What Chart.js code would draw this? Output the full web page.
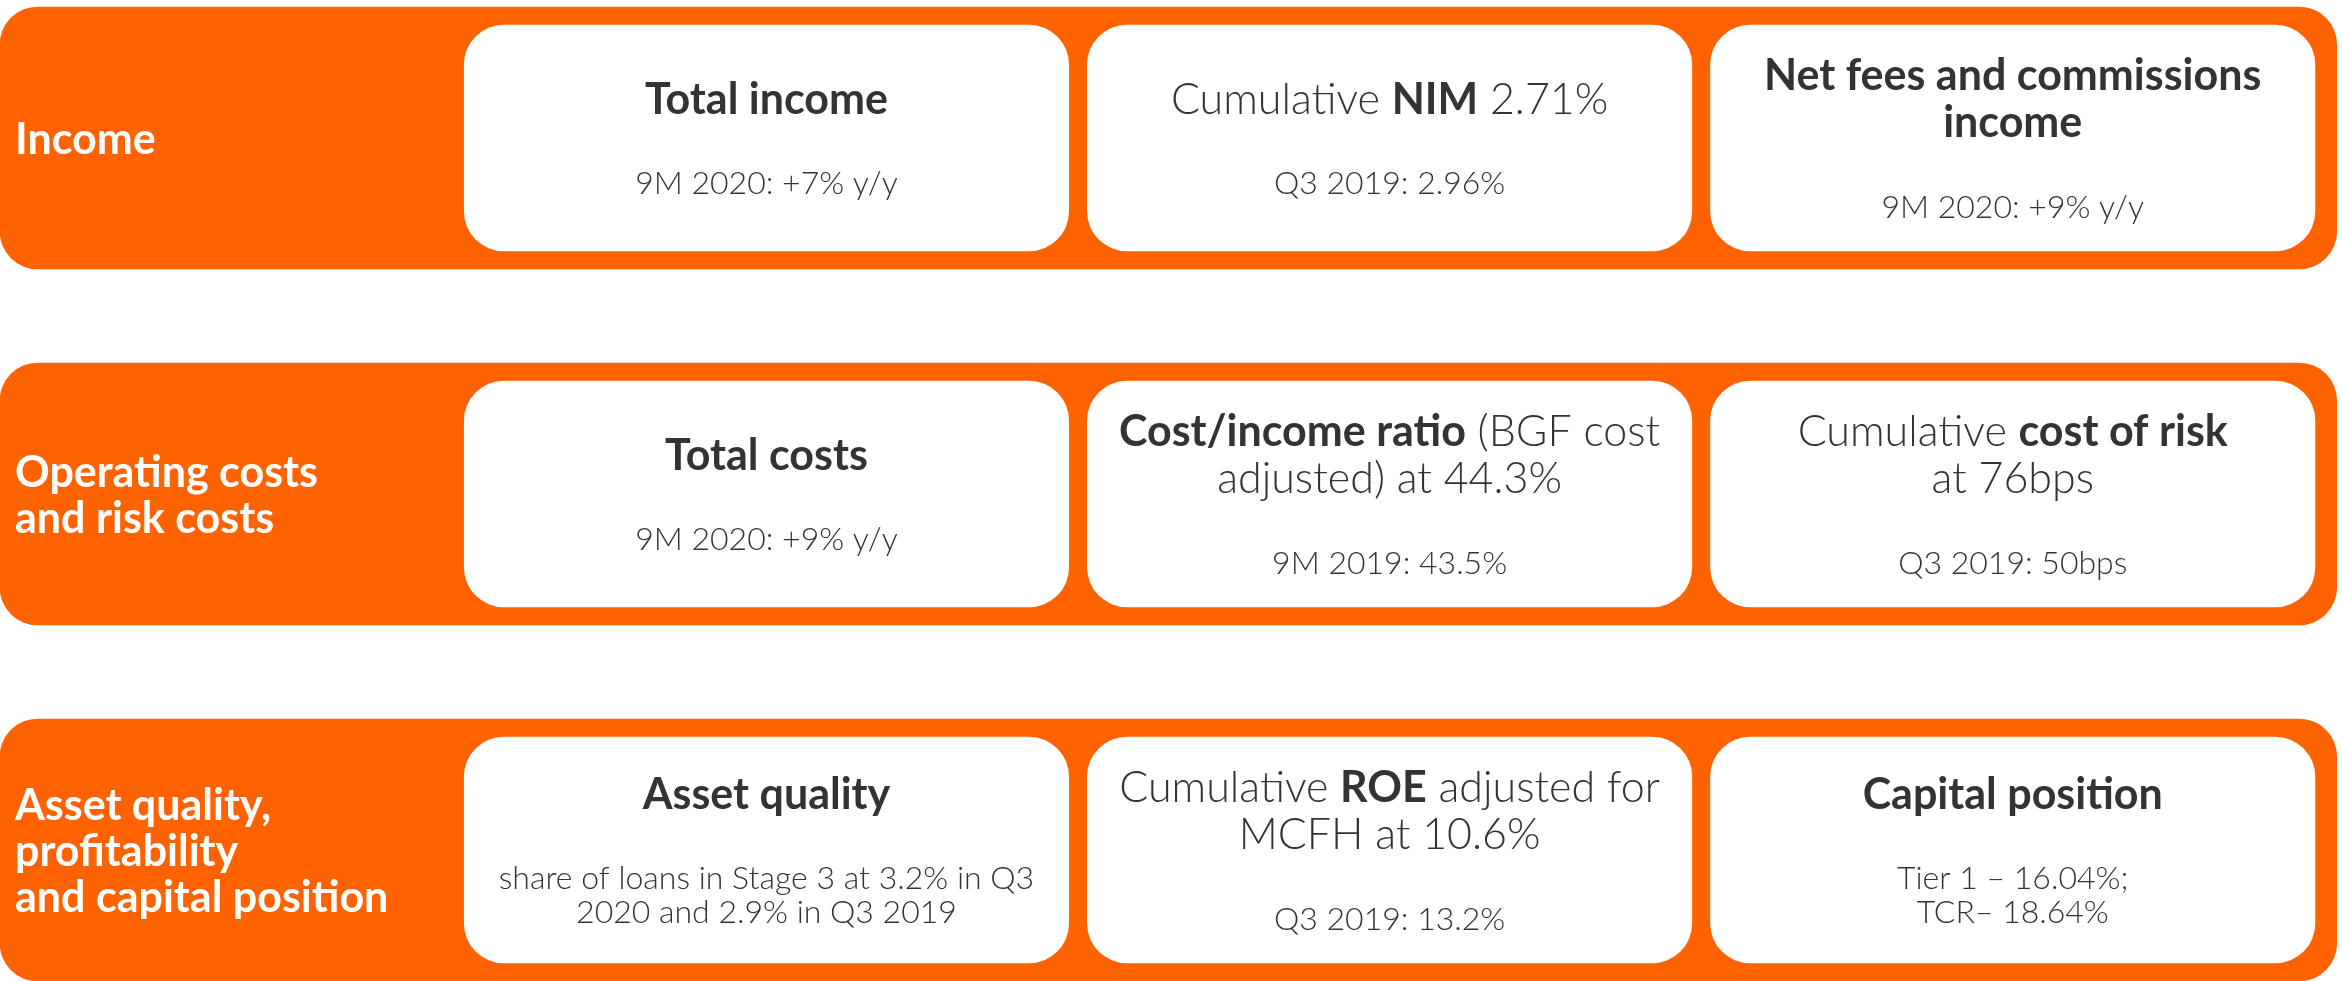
<!DOCTYPE html>
<html>
<head>
<meta charset="utf-8">
<script src="https://cdn.jsdelivr.net/npm/chart.js@4/dist/chart.umd.min.js"></script>
<style>
	body { margin: 0; background: #ffffff; overflow: hidden; }
	#chart { display: block; }
</style>
</head>
<body>
<canvas id="chart" width="2343" height="981"></canvas>
<script>
// row labels (one per orange band), "\n" = line break
var rows = ["Income", "Operating costs\nand risk costs", "Asset quality,\nprofitability\nand capital position"];

// card titles per row, **text** = bold
var titles = [
	["**Total income**", "Cumulative **NIM** 2.71%", "**Net fees and commissions**\n**income**"],
	["**Total costs**", "**Cost/income ratio** (BGF cost\nadjusted) at 44.3%", "Cumulative **cost of risk**\nat 76bps"],
	["**Asset quality**", "Cumulative **ROE** adjusted for\nMCFH at 10.6%", "**Capital position**"]
];

// card sub texts per row
var subtitles = [
	["9M 2020: +7% y/y", "Q3 2019: 2.96%", "9M 2020: +9% y/y"],
	["9M 2020: +9% y/y", "9M 2019: 43.5%", "Q3 2019: 50bps"],
	["share of loans in Stage 3 at 3.2% in Q3\n2020 and 2.9% in Q3 2019", "Q3 2019: 13.2%", "Tier 1 – 16.04%;\nTCR– 18.64%"]
];

var columns = [0, 1, 2];

var orange = "#ff6200";
var dark = "#333333";

// draws one line with **bold** parts, centered at cx
function drawRuns(ctx, line, cx, y, size) {
	var parts = line.split("**");
	var widths = [];
	var total = 0;
	parts.forEach(function (p, i) {
		ctx.font = (i % 2 ? "700 " : "300 ") + size + "px Lato";
		var w = ctx.measureText(p).width;
		widths.push(w);
		total += w;
	});
	var x = cx - total / 2;
	parts.forEach(function (p, i) {
		ctx.font = (i % 2 ? "700 " : "300 ") + size + "px Lato";
		ctx.fillText(p, x, y);
		x += widths[i];
	});
}

var textPlugin = {
	id: "cardText",
	afterDatasetsDraw: function (chart) {
		var ctx = chart.ctx;
		ctx.save();
		ctx.textBaseline = "middle";
		ctx.textAlign = "left";

		// row labels on the orange band
		var band = chart.getDatasetMeta(3);
		band.data.forEach(function (el, i) {
			var lines = rows[i].split("\n");
			var left = Math.min(el.x, el.base) + 15;
			var lh = 46;
			var top = el.y + 2 - (lines.length - 1) * lh / 2;
			ctx.fillStyle = "#ffffff";
			ctx.font = "700 43px Lato";
			lines.forEach(function (l, k) {
				ctx.fillText(l, left, top + k * lh);
			});
		});

		// card texts
		columns.forEach(function (c) {
			var meta = chart.getDatasetMeta(c);
			meta.data.forEach(function (el, i) {
				var cx = (el.x + el.base) / 2;
				var t = titles[i][c].split("\n");
				var s = subtitles[i][c].split("\n");
				var tlh = 47, slh = 34, gap = 84;
				var span = (t.length - 1) * tlh + gap + (s.length - 1) * slh;
				var y = el.y + 4 - span / 2;
				ctx.fillStyle = dark;
				t.forEach(function (l) {
					drawRuns(ctx, l, cx, y, 43);
					y += tlh;
				});
				y += gap - tlh;
				s.forEach(function (l) {
					drawRuns(ctx, l, cx, y, 32);
					y += slh;
				});
			});
		});
		ctx.restore();
	}
};

var datasets = columns.map(function (c) {
	return {
		label: "card " + (c + 1),
		data: rows.map(function () { return [c + 0.015, c + 0.985]; }),
		backgroundColor: "#ffffff",
		borderRadius: 40,
		borderSkipped: false,
		barThickness: 226,
		grouped: false,
		clip: false,
		order: 1
	};
});
datasets.push({
	label: "band",
	data: rows.map(function () { return [-0.73, 3.02]; }),
	backgroundColor: orange,
	borderRadius: 38,
	borderSkipped: false,
	barThickness: 262,
	grouped: false,
	clip: false,
	order: 2
});

new Chart(document.getElementById("chart").getContext("2d"), {
	type: "bar",
	data: {
		labels: rows,
		datasets: datasets
	},
	options: {
		indexAxis: "y",
		responsive: false,
		animation: false,
		layout: { padding: { top: 138, bottom: 131, left: 0, right: 0 } },
		plugins: {
			legend: { display: false },
			tooltip: { enabled: false }
		},
		scales: {
			x: { type: "linear", min: -0.73, max: 3.03, display: false },
			y: { type: "category", offset: false, display: false }
		}
	},
	plugins: [textPlugin]
});
</script>
</body>
</html>
